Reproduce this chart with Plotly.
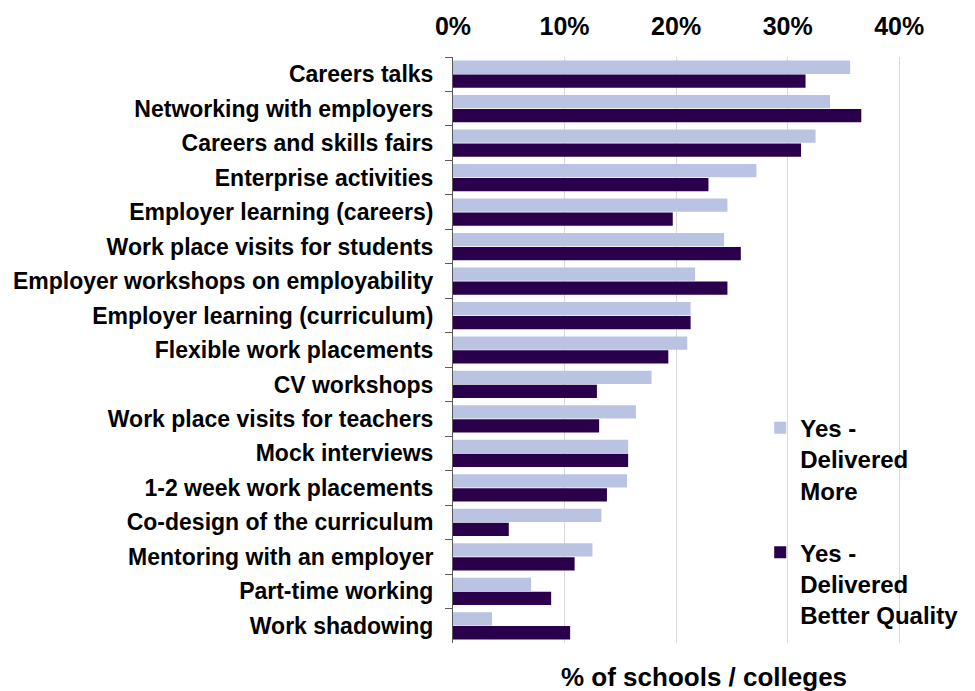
import plotly.graph_objects as go

categories = [
    "Careers talks",
    "Networking with employers",
    "Careers and skills fairs",
    "Enterprise activities",
    "Employer learning (careers)",
    "Work place visits for students",
    "Employer workshops on employability",
    "Employer learning (curriculum)",
    "Flexible work placements",
    "CV workshops",
    "Work place visits for teachers",
    "Mock interviews",
    "1-2 week work placements",
    "Co-design of the curriculum",
    "Mentoring with an employer",
    "Part-time working",
    "Work shadowing",
]

delivered_more = [0.356, 0.338, 0.325, 0.272, 0.246, 0.243, 0.217, 0.213, 0.210,
                  0.178, 0.164, 0.157, 0.156, 0.133, 0.125, 0.070, 0.035]
delivered_better = [0.316, 0.366, 0.312, 0.229, 0.197, 0.258, 0.246, 0.213, 0.193,
                    0.129, 0.131, 0.157, 0.138, 0.050, 0.109, 0.088, 0.105]

series_names = ["Yes -<br>Delivered<br>More", "Yes -<br>Delivered<br>Better Quality"]
colors = ["#BAC4E2", "#2A004C"]

FONT = "Liberation Sans, Arial, sans-serif"

fig = go.Figure()
for i, (name, vals) in enumerate(zip(series_names, [delivered_more, delivered_better])):
    fig.add_trace(go.Bar(
        y=categories, x=vals, orientation="h", name=name,
        marker=dict(color=colors[i], line=dict(width=0)),
        legendgroup=f"g{i}",
    ))

fig.update_layout(
    width=975, height=691,
    margin=dict(l=453, r=20, t=57, b=48, autoexpand=False),
    paper_bgcolor="white", plot_bgcolor="white",
    barmode="group", bargap=0.19, bargroupgap=0.05,
    font=dict(family=FONT, size=23, color="black", weight=700),
    showlegend=True,
    legend=dict(
        x=0.612, y=0.405, xanchor="left", yanchor="top",
        font=dict(family=FONT, size=24, color="black", weight=700),
        valign="top", tracegroupgap=28, bgcolor="rgba(0,0,0,0)",
        traceorder="grouped",
    ),
    xaxis=dict(
        side="top", range=[0, 0.45], dtick=0.1, tick0=0, tickformat=".0%",
        showgrid=True, gridcolor="#D9D9D9", gridwidth=1,
        zeroline=False, showline=False, ticks="", automargin=False,
        ticklabelstandoff=16,
        tickfont=dict(family=FONT, size=25, color="black", weight=700),
    ),
    yaxis=dict(
        autorange="reversed", tickson="boundaries", ticks="outside",
        ticklen=7, tickcolor="#595959", showline=True, linecolor="#595959",
        linewidth=1, showgrid=False, zeroline=False, automargin=False,
        ticklabelstandoff=14,
        tickfont=dict(family=FONT, size=23, color="black", weight=700),
    ),
    annotations=[dict(
        text="% of schools / colleges", xref="paper", yref="paper",
        x=0.5, y=0, yshift=-34, xanchor="center", yanchor="middle",
        showarrow=False,
        font=dict(family=FONT, size=26, color="black", weight=700),
    )],
)

fig.write_html("out.html", config={"displayModeBar": False},
               post_script="document.body.style.margin='0';")
